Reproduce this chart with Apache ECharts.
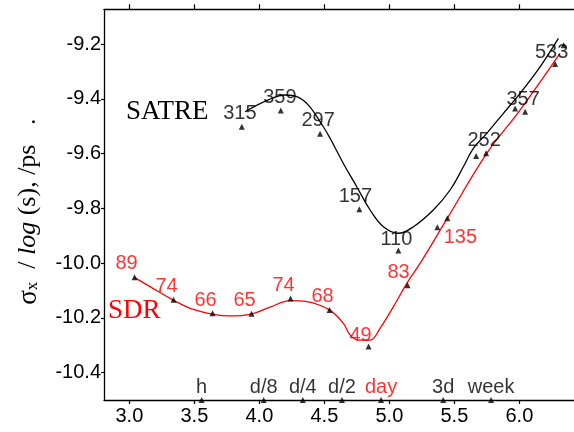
<!DOCTYPE html>
<html>
<head>
<meta charset="utf-8">
<script src="https://cdn.jsdelivr.net/npm/echarts@6/dist/echarts.min.js"></script>
<style>html,body{margin:0;padding:0;background:#fff}#c{width:574px;height:432px}</style>
</head>
<body>
<div id="c"></div>
<script>
// x = log10(tau / s), y = log10(sigma_x / s)
const satreX = [3.865, 4.165, 4.467, 4.769, 5.069, 5.369, 5.667, 5.967, 6.34];
const satreY = [-9.502, -9.443, -9.528, -9.803, -9.954, -9.869, -9.609, -9.435, -9.204];
const satreN = ['315', '359', '297', '157', '110', '', '252', '357', '533'];

const sdrX = [3.04, 3.34, 3.64, 3.94, 4.24, 4.54, 4.84, 5.14, 5.446, 5.744, 6.044, 6.275];
const sdrY = [-10.052, -10.134, -10.183, -10.185, -10.129, -10.171, -10.305, -10.081, -9.836, -9.599, -9.447, -9.273];
const sdrN = ['89', '74', '66', '65', '74', '68', '49', '83', '135', '', '', ''];

// fitted curves
const satreFitX = [3.89, 4.069, 4.198, 4.288, 4.377, 4.492, 4.544, 4.646, 4.749, 4.852, 4.954, 5.069, 5.185, 5.338, 5.467, 5.569, 5.646, 5.749, 5.877, 6.005, 6.159, 6.3];
const satreFitY = [-9.447, -9.404, -9.386, -9.392, -9.423, -9.502, -9.544, -9.636, -9.721, -9.806, -9.867, -9.891, -9.867, -9.806, -9.733, -9.648, -9.581, -9.526, -9.453, -9.38, -9.283, -9.179];

const sdrFitX = [3.038, 3.159, 3.338, 3.467, 3.638, 3.775, 3.938, 4.082, 4.238, 4.365, 4.538, 4.646, 4.697, 4.762, 4.852, 4.928, 5.031, 5.134, 5.236, 5.446, 5.749, 6.005, 6.312];
const sdrFitY = [-10.052, -10.086, -10.135, -10.165, -10.186, -10.193, -10.186, -10.161, -10.137, -10.141, -10.171, -10.22, -10.262, -10.281, -10.281, -10.238, -10.159, -10.074, -10.001, -9.836, -9.599, -9.441, -9.234];

// averaging-time markers
const timeNames = ['h', 'd/8', 'd/4', 'd/2', 'day', '3d', 'week'];
const timeX = [3.556, 4.033, 4.334, 4.635, 4.936, 5.414, 5.782];

const xTicks = [3.0, 3.5, 4.0, 4.5, 5.0, 5.5, 6.0];
const yTicks = [-10.4, -10.2, -10.0, -9.8, -9.6, -9.4, -9.2];

// label placement (styles, not data)
const satreOff = [[-2,-13],[-1,-13],[-2,-13],[-4,-13],[-2,-11],[0,0],[8,-16],[8,-9],[-12,7]];
const sdrOff = [[-8,-14],[-7,-13],[-7,-13],[-7,-13],[-7,-13],[-7,-13],[-8,-11],[-9,-13],[13,19],[0,0],[0,0],[0,0]];

const FONT = 'Liberation Sans, Arial, sans-serif';
const SERIF = 'Liberation Serif, Times New Roman, serif';

function pts(xs, ys, names, offs, color) {
  return xs.map((x, i) => ({
    value: [x, ys[i]],
    label: {
      show: !!names[i], formatter: names[i] || '', position: 'inside',
      offset: offs[i], color: color, fontSize: 20, fontFamily: FONT,
      textBorderWidth: 0
    }
  }));
}

const chart = echarts.init(document.getElementById('c'), null, {renderer: 'canvas'});
const axisLine = {show: true, onZero: false, lineStyle: {color: '#000', width: 1.3}};
chart.setOption({
  animation: false,
  backgroundColor: '#fff',
  grid: {left: 104, right: 0, top: 9.3, bottom: 32, containLabel: false},
  xAxis: [{
    type: 'value', min: 2.805, max: 6.42, position: 'bottom',
    axisLine: axisLine,
    axisTick: {show: true, length: 4, customValues: xTicks, lineStyle: {color: '#000', width: 1.2}},
    axisLabel: {customValues: xTicks, formatter: v => v.toFixed(1), color: '#000', fontSize: 20, fontFamily: FONT, margin: 6},
    splitLine: {show: false}
  }, {
    type: 'value', min: 2.805, max: 6.42, position: 'top',
    axisLine: axisLine,
    axisTick: {show: true, length: 5, customValues: xTicks, lineStyle: {color: '#000', width: 1.2}},
    axisLabel: {show: false},
    splitLine: {show: false}
  }],
  yAxis: {
    type: 'value', min: -10.5, max: -9.073,
    axisLine: axisLine,
    axisTick: {show: true, length: 3, customValues: yTicks, lineStyle: {color: '#000', width: 1.2}},
    axisLabel: {customValues: yTicks, formatter: v => v.toFixed(1), color: '#000', fontSize: 20, fontFamily: FONT, margin: 3},
    splitLine: {show: false},
    name: '{s|σ}{sub|x}{n|  / }{i|log}{n| (s), /ps   }{e|.}',
    nameLocation: 'middle', nameGap: 62, nameRotate: 90,
    nameTextStyle: {
      color: '#000',
      rich: {
        s: {fontFamily: SERIF, fontSize: 27, color: '#000'},
        sub: {fontFamily: SERIF, fontSize: 17, color: '#000', padding: [9, 0, 0, 0]},
        n: {fontFamily: SERIF, fontSize: 26, color: '#000'},
        i: {fontFamily: SERIF, fontSize: 26, fontStyle: 'italic', color: '#000'},
        e: {fontFamily: SERIF, fontSize: 26, color: '#000', padding: [0, 14, 0, 0]}
      }
    }
  },
  graphic: [
    {type: 'text', left: 126, top: 98, style: {text: 'SATRE', font: '27px ' + SERIF, fill: '#000'}},
    {type: 'text', left: 108, top: 297, style: {text: 'SDR', font: '27px ' + SERIF, fill: '#ff0000'}}
  ],
  series: [
    {type: 'line', smooth: 0.4, showSymbol: false, data: satreFitX.map((x, i) => [x, satreFitY[i]]),
     lineStyle: {color: '#000', width: 1.3}, z: 2},
    {type: 'line', smooth: 0.4, showSymbol: false, data: sdrFitX.map((x, i) => [x, sdrFitY[i]]),
     lineStyle: {color: '#ff0000', width: 1.3}, z: 2},
    {type: 'scatter', symbol: 'triangle', symbolSize: 6, itemStyle: {color: '#000'},
     data: pts(satreX, satreY, satreN, satreOff, '#000'), z: 3},
    {type: 'scatter', symbol: 'triangle', symbolSize: 6, itemStyle: {color: '#000'},
     data: pts(sdrX, sdrY, sdrN, sdrOff, '#ff0000'), z: 3},
    {type: 'scatter', symbol: 'triangle', symbolSize: 6, itemStyle: {color: '#000'}, clip: false,
     data: timeX.map((x, i) => ({
       value: [x, -10.5],
       label: {show: true, formatter: timeNames[i], position: 'inside', offset: [0, -13],
               color: timeNames[i] === 'day' ? '#ff0000' : '#000', fontSize: 20, fontFamily: FONT,
               textBorderWidth: 0}
     })), z: 4}
  ]
});
</script>
</body>
</html>
